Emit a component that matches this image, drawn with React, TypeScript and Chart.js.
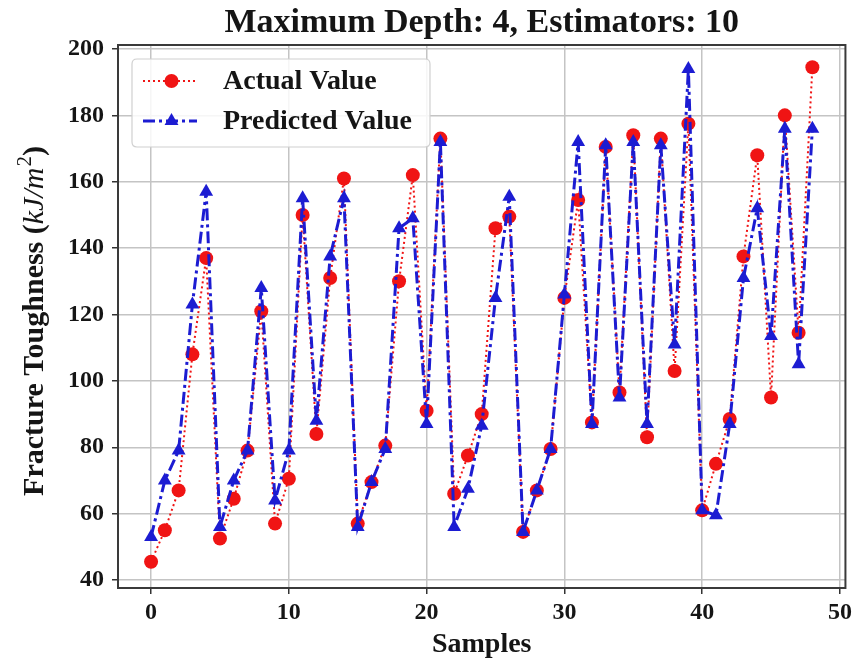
import React, { useEffect, useRef } from 'react';
import { Chart, registerables } from 'chart.js';

Chart.register(...registerables);

const titleText = 'Maximum Depth: 4, Estimators: 10';
const xAxisLabel = 'Samples';
const yAxisLabelMain = 'Fracture Toughness (';
const yAxisLabelUnit = 'kJ/m';
const yAxisLabelSup = '2';
const yAxisLabelEnd = ')';
const actualLabel = 'Actual Value';
const predictedLabel = 'Predicted Value';

const actualValues = [
  45.5, 55, 67, 108, 137, 52.5, 64.5, 79, 121, 57,
  70.5, 150, 84, 131, 161, 57, 69.5, 80.5, 130, 162,
  91, 173, 66, 77.5, 90, 146, 149.5, 54.5, 67, 79.5,
  125, 154.5, 87.5, 170.5, 96.5, 174, 83, 173, 103, 177.5,
  61, 75, 88.5, 137.5, 168, 95, 180, 114.5, 194.5,
];

const predictedValues = [
  53, 70, 79, 123, 157, 56, 70, 79, 128, 64,
  79, 155, 88, 137.5, 155, 56, 69.5, 79.5, 146, 149,
  87, 172, 56, 67.5, 86.5, 125, 155.5, 54.5, 67, 79.5,
  126, 172, 87, 171, 95, 172, 87, 171, 111, 194,
  61, 59.5, 87, 131, 152, 113.5, 176, 105, 176,
];

const xTicks = [0, 10, 20, 30, 40, 50];
const yTicks = [40, 60, 80, 100, 120, 140, 160, 180, 200];

const RED = '#f01414';
const BLUE = '#1c1cd2';
const FONT = "'Liberation Serif', 'Times New Roman', serif";
const TEXT = '#151515';

const RED_DASH = [2, 3];
const BLUE_DASH = [12, 4, 3, 4];

function drawTriangle(ctx: CanvasRenderingContext2D, x: number, y: number, r: number) {
  ctx.beginPath();
  let rad = 0;
  ctx.moveTo(x + Math.sin(rad) * r, y - Math.cos(rad) * r);
  rad += (2 * Math.PI) / 3;
  ctx.lineTo(x + Math.sin(rad) * r, y - Math.cos(rad) * r);
  rad += (2 * Math.PI) / 3;
  ctx.lineTo(x + Math.sin(rad) * r, y - Math.cos(rad) * r);
  ctx.closePath();
  ctx.fill();
}

const decorPlugin = {
  id: 'decor',
  afterDatasetsDraw(chart: any) {
    const { ctx, chartArea } = chart;
    const { left, right, top, bottom } = chartArea;
    ctx.save();
    // frame
    ctx.strokeStyle = '#3a3a3a';
    ctx.lineWidth = 2;
    ctx.setLineDash([]);
    ctx.strokeRect(left, top, right - left, bottom - top);

    // title
    ctx.fillStyle = TEXT;
    ctx.font = `bold 34px ${FONT}`;
    ctx.textAlign = 'center';
    ctx.textBaseline = 'alphabetic';
    ctx.fillText(titleText, (left + right) / 2, 32);

    // y axis title (with italic unit and superscript)
    const segs = [
      { t: yAxisLabelMain, f: `bold 30px ${FONT}`, dy: 0 },
      { t: yAxisLabelUnit, f: `italic 30px ${FONT}`, dy: 0 },
      { t: yAxisLabelSup, f: `21px ${FONT}`, dy: -12 },
      { t: yAxisLabelEnd, f: `bold 30px ${FONT}`, dy: 0 },
    ];
    let total = 0;
    const widths = segs.map((s) => {
      ctx.font = s.f;
      const w = ctx.measureText(s.t).width;
      total += w;
      return w;
    });
    ctx.save();
    ctx.translate(43, (top + bottom) / 2 + 5);
    ctx.rotate(-Math.PI / 2);
    ctx.textAlign = 'left';
    ctx.textBaseline = 'alphabetic';
    ctx.fillStyle = TEXT;
    let cx = -total / 2;
    segs.forEach((s, i) => {
      ctx.font = s.f;
      ctx.fillText(s.t, cx, s.dy);
      cx += widths[i] + (i === 1 ? 1 : 0);
    });
    ctx.restore();

    // legend
    const bx = 132, by = 59, bw = 298, bh = 88, br = 5;
    ctx.beginPath();
    ctx.moveTo(bx + br, by);
    ctx.lineTo(bx + bw - br, by);
    ctx.quadraticCurveTo(bx + bw, by, bx + bw, by + br);
    ctx.lineTo(bx + bw, by + bh - br);
    ctx.quadraticCurveTo(bx + bw, by + bh, bx + bw - br, by + bh);
    ctx.lineTo(bx + br, by + bh);
    ctx.quadraticCurveTo(bx, by + bh, bx, by + bh - br);
    ctx.lineTo(bx, by + br);
    ctx.quadraticCurveTo(bx, by, bx + br, by);
    ctx.closePath();
    ctx.fillStyle = 'rgba(255,255,255,0.85)';
    ctx.fill();
    ctx.strokeStyle = '#d0d0d0';
    ctx.lineWidth = 1.2;
    ctx.stroke();

    const rows = [
      { y: 81, label: actualLabel, color: RED, dash: RED_DASH, lw: 2, marker: 'circle' },
      { y: 121, label: predictedLabel, color: BLUE, dash: BLUE_DASH, lw: 3, marker: 'triangle' },
    ];
    rows.forEach((row) => {
      ctx.strokeStyle = row.color;
      ctx.lineWidth = row.lw;
      ctx.setLineDash(row.dash);
      ctx.beginPath();
      ctx.moveTo(143, row.y);
      ctx.lineTo(197, row.y);
      ctx.stroke();
      ctx.setLineDash([]);
      ctx.fillStyle = row.color;
      if (row.marker === 'circle') {
        ctx.beginPath();
        ctx.arc(171.5, row.y, 7, 0, Math.PI * 2);
        ctx.fill();
      } else {
        drawTriangle(ctx, 171.5, row.y, 8);
      }
      ctx.fillStyle = TEXT;
      ctx.font = `bold 28px ${FONT}`;
      ctx.textAlign = 'left';
      ctx.textBaseline = 'middle';
      ctx.fillText(row.label, 223, row.y + 1);
    });
    ctx.restore();
  },
};

export default function App() {
  const canvasRef = useRef<HTMLCanvasElement | null>(null);

  useEffect(() => {
    const canvas = canvasRef.current;
    if (!canvas) return;
    const tickFont = { family: FONT, weight: 'bold' as const, size: 24 };
    const titleFont = { family: FONT, weight: 'bold' as const, size: 28 };
    const chart = new Chart(canvas, {
      type: 'line',
      data: {
        datasets: [
          {
            label: predictedLabel,
            data: predictedValues.map((v, i) => ({ x: i, y: v })),
            borderColor: BLUE,
            backgroundColor: BLUE,
            borderWidth: 3,
            borderDash: BLUE_DASH,
            pointStyle: 'triangle',
            pointRadius: 8,
            pointBorderWidth: 0,
            pointBackgroundColor: BLUE,
            tension: 0,
            order: 0,
          },
          {
            label: actualLabel,
            data: actualValues.map((v, i) => ({ x: i, y: v })),
            borderColor: RED,
            backgroundColor: RED,
            borderWidth: 2,
            borderDash: RED_DASH,
            pointStyle: 'circle',
            pointRadius: 7,
            pointBorderWidth: 0,
            pointBackgroundColor: RED,
            tension: 0,
            order: 1,
          },
        ],
      },
      options: {
        animation: false,
        responsive: false,
        devicePixelRatio: 1,
        layout: { padding: { top: 45, right: 10, left: 0, bottom: 0 } },
        plugins: {
          legend: { display: false },
          title: { display: false },
          tooltip: { enabled: false },
        },
        scales: {
          x: {
            type: 'linear',
            min: -2.4,
            max: 50.4,
            afterBuildTicks: (s: any) => {
              s.ticks = xTicks.map((v) => ({ value: v }));
            },
            afterFit: (s: any) => {
              s.height = 74;
            },
            grid: {
              color: '#c4c4c4',
              lineWidth: 1.5,
              drawTicks: true,
              tickLength: 6,
              tickColor: '#333',
            },
            border: { display: false },
            ticks: {
              font: tickFont,
              color: TEXT,
              padding: 4,
              maxRotation: 0,
              autoSkip: false,
            },
            title: {
              display: true,
              text: xAxisLabel,
              font: titleFont,
              color: TEXT,
              padding: { top: 1, bottom: 0 },
            },
          },
          y: {
            type: 'linear',
            min: 37.6,
            max: 201.2,
            afterBuildTicks: (s: any) => {
              s.ticks = yTicks.map((v) => ({ value: v }));
            },
            afterFit: (s: any) => {
              s.width = 118;
            },
            grid: {
              color: '#c4c4c4',
              lineWidth: 1.5,
              drawTicks: true,
              tickLength: 6,
              tickColor: '#333',
            },
            border: { display: false },
            ticks: {
              font: tickFont,
              color: TEXT,
              padding: 8,
              autoSkip: false,
            },
            title: { display: false },
          },
        },
      },
      plugins: [decorPlugin],
    } as any);
    return () => chart.destroy();
  }, []);

  return (
    <div style={{ position: 'absolute', left: 0, top: 0, width: 856, height: 662, background: '#fff' }}>
      <canvas ref={canvasRef} width={856} height={662} style={{ display: 'block' }} />
    </div>
  );
}
